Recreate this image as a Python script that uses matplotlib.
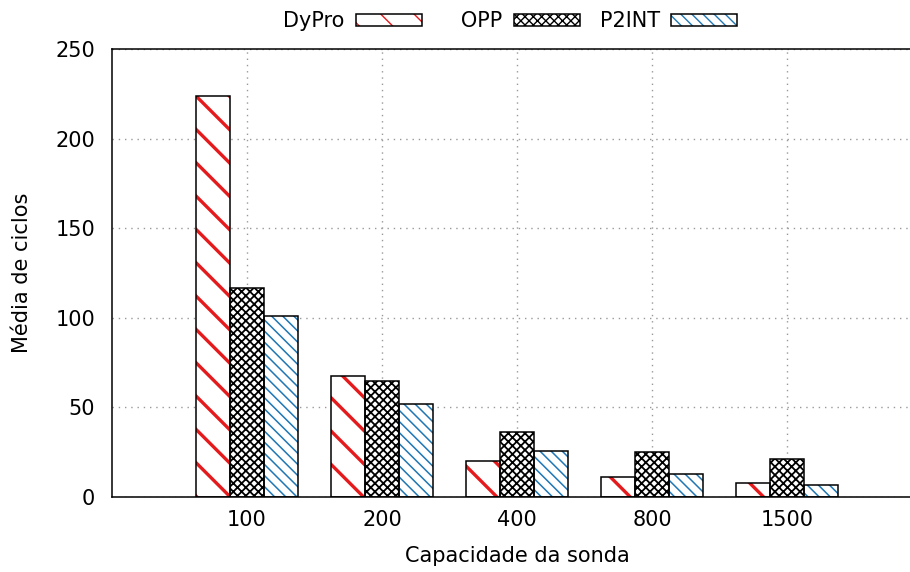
import matplotlib
matplotlib.use('Agg')
import matplotlib.pyplot as plt
from matplotlib.patches import Patch
from matplotlib.legend_handler import HandlerTuple
import numpy as np

# data
capacidades = ['100', '200', '400', '800', '1500']
dypro = [224, 67.5, 20, 11.2, 7.6]
opp = [116.5, 65, 36, 25, 21]
p2int = [101, 52, 25.7, 12.7, 6.5]

series = ['DyPro', 'OPP', 'P2INT']
# gnuplot key: text right-justified in equal columns
legend_labels = ['DyPro', '   OPP', 'P2INT']
colors = ['#e41a1c', 'black', '#1f77b4']
hatches = ['\\', 'xxxx', '\\\\\\']
hatch_lw = [2.4, 1.3, 1.1]

plt.rcParams['font.family'] = 'DejaVu Sans'
plt.rcParams['font.size'] = 15

fig = plt.figure(figsize=(9.1, 5.72), dpi=100)
ax = fig.add_axes([112 / 910, 75 / 572, 810 / 910, 448 / 572])

x = np.arange(len(capacidades))
width = 0.25
handles = []
for i, vals in enumerate([dypro, opp, p2int]):
    pos = x + (i - 1) * width
    with plt.rc_context({'hatch.linewidth': hatch_lw[i]}):
        ax.bar(pos, vals, width, color='white', edgecolor=colors[i],
               hatch=hatches[i], linewidth=0, zorder=2)
        hp = Patch(facecolor='white', edgecolor=colors[i], hatch=hatches[i], linewidth=0)
    ax.bar(pos, vals, width, facecolor='none', edgecolor='black', linewidth=1.1, zorder=3)
    outline = Patch(facecolor='none', edgecolor='black', linewidth=1.1)
    handles.append((hp, outline))

ax.set_xlim(-1, 5)
ax.set_ylim(0, 250)
ax.set_xticks(x)
ax.set_xticklabels(capacidades)
ax.set_yticks(np.arange(0, 251, 50))
ax.tick_params(axis='both', length=0)
ax.tick_params(axis='y', pad=12)
ax.tick_params(axis='x', pad=9)
ax.grid(True, color='#999999', linestyle=(0, (1, 3.5)), linewidth=1, zorder=0)
ax.set_axisbelow(True)
for s in ax.spines.values():
    s.set_linewidth(1.1)

ax.set_xlabel('Capacidade da sonda', labelpad=12)
ax.set_ylabel('Média de ciclos', labelpad=17)

fig.legend(handles, legend_labels, loc='center', bbox_to_anchor=(510 / 910, 1 - 21 / 572),
           ncol=3, frameon=False, markerfirst=False, handlelength=3.15,
           handleheight=0.5, handletextpad=0.55, columnspacing=0.95,
           borderpad=0, handler_map={tuple: HandlerTuple(ndivide=1)})

fig.savefig('out.png', dpi=100)
